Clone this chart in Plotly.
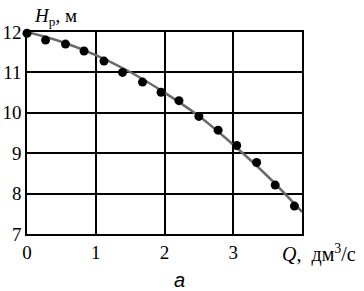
import plotly.graph_objects as go

# measured points
q_pts = [0.0, 0.27, 0.56, 0.83, 1.12, 1.39, 1.68, 1.95, 2.21, 2.50, 2.78, 3.05, 3.34, 3.61, 3.89]
h_pts = [11.97, 11.80, 11.70, 11.53, 11.28, 11.00, 10.76, 10.51, 10.30, 9.91, 9.57, 9.19, 8.77, 8.21, 7.69]

# fitted curve
q_fit = [0.0, 0.5, 1.0, 1.5, 2.0, 2.5, 3.0, 3.5, 4.0]
h_fit = [12.0, 11.76, 11.43, 11.01, 10.50, 9.92, 9.21, 8.43, 7.55]

x_ticks = [0, 1, 2, 3]
y_ticks = [7, 8, 9, 10, 11, 12]

fig = go.Figure()
fig.add_trace(go.Scatter(x=q_fit, y=h_fit, mode="lines", line=dict(color="#6a6a6a", width=2.5, shape="spline"),
                         cliponaxis=False, showlegend=False))
fig.add_trace(go.Scatter(x=q_pts, y=h_pts, mode="markers", marker=dict(color="black", size=9),
                         cliponaxis=False, showlegend=False))

serif = "Liberation Serif, Times New Roman, serif"
fig.update_layout(
    width=364, height=291,
    margin=dict(l=27, r=62, t=32, b=57),
    paper_bgcolor="white", plot_bgcolor="white",
    font=dict(family=serif, size=19, color="black"),
    xaxis=dict(range=[0, 4], tickvals=x_ticks, ticktext=[str(v) for v in x_ticks],
               showgrid=True, gridcolor="black", gridwidth=1.5, zeroline=False, automargin=False,
               showline=True, linecolor="black", linewidth=1.5, mirror=True, ticks="",
               tickfont=dict(family=serif, size=19)),
    yaxis=dict(range=[7, 12], tickvals=y_ticks, ticktext=[str(v) for v in y_ticks],
               showgrid=True, gridcolor="black", gridwidth=1.5, zeroline=False, automargin=False,
               showline=True, linecolor="black", linewidth=1.5, mirror=True, ticks="",
               tickfont=dict(family=serif, size=19)),
    annotations=[
        dict(text="<i>H</i><sub>р</sub>, м", xref="paper", yref="paper", x=0.018, y=1.0,
             xanchor="left", yanchor="bottom", showarrow=False, yshift=1,
             font=dict(family=serif, size=19)),
        dict(text="<i>Q</i>,\u00a0 дм<sup>3</sup>/с", xref="paper", yref="paper", x=0.92, y=0,
             xanchor="left", yanchor="top", showarrow=False, yshift=-5,
             font=dict(family=serif, size=20)),
        dict(text="<i>а</i>", xref="paper", yref="paper", x=0.556, y=0,
             xanchor="center", yanchor="top", showarrow=False, yshift=-33,
             font=dict(family="Liberation Sans, Arial, sans-serif", size=20)),
    ],
)

fig.write_html("out.html", config={"displayModeBar": False},
               post_script="document.body.style.margin='0px';document.body.style.overflow='hidden';")
